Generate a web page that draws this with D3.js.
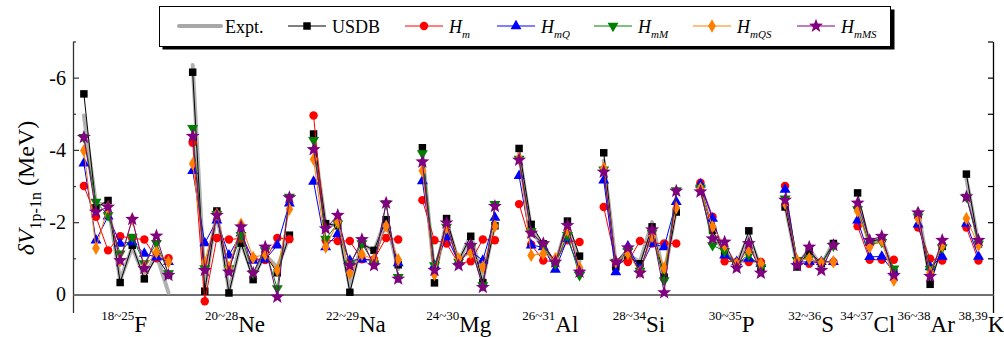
<!DOCTYPE html>
<html><head><meta charset="utf-8">
<script src="https://cdn.jsdelivr.net/npm/d3@7"></script>
<style>
body{margin:0;background:#fff}
svg{display:block}
text{font-family:"Liberation Serif","Times New Roman",serif;fill:#000}
</style>
</head><body>
<svg id="c" width="1004" height="337"></svg>
<script>
// ---------------- data ----------------
const elements   = ["F","Ne","Na","Mg","Al","Si","P","S","Cl","Ar","K"];
const massRanges = ["18~25","20~28","22~29","24~30","26~31","28~34","30~35","32~36","34~37","36~38","38,39"];
const groupSizes = [8,9,8,7,6,7,6,5,4,3,2];
const yMajorTicks = [0,-2,-4,-6];
const yMinorTicks = [-1,-3,-5,-7];

const expt = [
  -4.95,-2.5,-2.5,-0.4,-1.3,-0.5,-1.1,-0.05,
  -6.35,-0.2,-2.3,-0.1,-1.45,-0.5,-1.1,-0.75,-1.6,
  -4.3,-1.9,-1.95,-0.2,-1.4,-1.2,-2.1,-0.7,
  -3.95,-0.5,-2.0,-0.9,-1.65,-0.4,-2.0,
  -3.9,-1.8,-1.3,-0.85,-1.95,-0.9,
  -3.7,-0.85,-1.1,-0.9,-2.0,-0.5,-2.4,
  -3.0,-1.7,-1.15,-0.85,-1.6,-0.75,
  -2.5,-0.8,-1.25,-0.8,-1.45,
  -2.6,-1.4,-1.55,-0.6,
  -2.35,-0.4,-1.4,
  -3.2,-1.4];
const usdb = [
  -5.55,-2.4,-2.6,-0.33,-1.36,-0.43,-1.05,-0.55,
  -6.15,-0.09,-2.31,-0.04,-1.42,-0.41,-1.1,-0.6,-1.64,
  -4.44,-1.96,-1.9,-0.06,-1.4,-1.22,-2.07,-0.82,
  -4.06,-0.32,-2.1,-0.94,-1.61,-0.33,-1.9,
  -4.04,-1.94,-1.4,-0.86,-2.03,-1.06,
  -3.92,-0.76,-1.04,-0.85,-1.87,-0.48,-2.28,
  -3.0,-1.78,-1.1,-0.8,-1.76,-0.7,
  -2.42,-0.76,-1.2,-0.85,-1.41,
  -2.81,-1.45,-1.55,-0.6,
  -2.2,-0.28,-1.33,
  -3.33,-1.4];
const hm = [
  -3.0,-2.15,-1.22,-1.61,-1.55,-1.52,-1.0,-1.0,
  -4.2,0.19,-1.56,-1.52,-1.55,-1.0,-0.95,-1.56,-1.53,
  -4.95,-1.5,-1.48,-1.48,-0.97,-0.97,-1.56,-1.52,
  -2.61,-1.5,-1.41,-0.85,-0.92,-1.52,-1.5,
  -2.5,-1.38,-0.94,-0.9,-1.5,-1.45,
  -2.42,-0.9,-0.9,-1.48,-1.41,-1.41,-1.41,
  -3.09,-2.15,-0.92,-0.9,-0.9,-0.9,
  -3.0,-0.87,-0.85,-0.9,-0.9,
  -1.89,-0.96,-0.96,-0.96,
  -1.85,-0.99,-0.94,
  -1.85,-0.94];
const hmQ = [
  -3.63,-1.5,-2.16,-1.41,-1.45,-1.13,-1.03,-0.9,
  -3.42,-1.42,-2.05,-1.08,-1.69,-0.94,-0.97,-1.36,-2.52,
  -3.12,-1.31,-1.68,-0.94,-0.97,-0.94,-1.91,-0.87,
  -3.14,-0.8,-1.59,-0.9,-1.2,-0.94,-2.13,
  -3.28,-1.36,-1.31,-0.69,-1.54,-0.69,
  -3.16,-0.62,-1.33,-0.71,-1.41,-1.31,-2.56,
  -3.05,-2.1,-1.08,-0.9,-0.99,-0.85,
  -2.9,-0.9,-0.9,-0.9,-0.9,
  -2.05,-1.04,-1.05,-0.62,
  -1.94,-0.76,-1.05,
  -1.96,-1.05];
const hmM = [
  -4.35,-2.56,-2.19,-1.13,-1.59,-0.86,-1.42,-0.58,
  -4.6,-0.72,-2.22,-0.72,-1.64,-0.59,-1.22,-0.17,-2.7,
  -4.27,-1.54,-1.96,-0.85,-1.41,-0.85,-2.52,-0.48,
  -3.9,-0.8,-1.87,-0.9,-1.3,-0.25,-2.5,
  -3.75,-1.75,-1.35,-0.85,-1.64,-0.53,
  -3.45,-0.9,-1.2,-0.65,-1.7,-0.39,-2.88,
  -2.95,-1.36,-1.2,-0.85,-1.1,-0.75,
  -2.65,-0.95,-1.0,-0.85,-1.35,
  -2.35,-1.38,-1.45,-0.71,
  -2.15,-0.7,-1.3,
  -2.7,-1.4];
const hmQS = [
  -3.98,-1.28,-2.42,-0.94,-2.08,-0.76,-1.17,-0.9,
  -3.62,-0.9,-2.22,-0.75,-1.94,-1.02,-1.11,-0.67,-2.36,
  -3.74,-1.31,-2.01,-0.59,-1.11,-0.96,-1.89,-0.96,
  -3.42,-0.55,-1.85,-0.99,-1.15,-0.76,-1.89,
  -3.76,-1.08,-1.13,-0.99,-1.78,-0.74,
  -3.49,-0.9,-1.13,-0.62,-1.61,-0.73,-2.4,
  -2.93,-1.87,-1.36,-0.85,-1.22,-0.85,
  -2.52,-0.94,-0.99,-0.87,-0.9,
  -2.31,-1.31,-1.5,-0.39,
  -2.1,-0.6,-1.36,
  -2.1,-1.36];
const hmMS = [
  -4.35,-2.28,-2.42,-0.94,-2.08,-0.72,-1.62,-0.53,
  -4.38,-0.67,-2.19,-0.62,-1.87,-0.59,-1.31,0.07,-2.68,
  -4.01,-1.82,-2.19,-0.8,-1.52,-0.8,-2.53,-0.43,
  -3.67,-0.67,-1.98,-0.8,-1.36,-0.2,-2.44,
  -3.72,-1.7,-1.41,-0.9,-1.91,-0.62,
  -3.39,-0.9,-1.29,-0.59,-1.79,-0.05,-2.86,
  -2.84,-1.54,-1.45,-0.73,-1.41,-0.59,
  -2.61,-0.8,-1.31,-0.67,-1.36,
  -2.53,-1.5,-1.61,-0.53,
  -2.26,-0.5,-1.5,
  -2.7,-1.5];

// --------------- layout ---------------
const svg = d3.select("#c");
const x = d3.scaleLinear().domain([-0.9, 75.2]).range([73, 993]);
const y = d3.scaleLinear().domain([0.5, -7]).range([312.5, 41.5]);
// horizontal nudges (px) of each group label relative to its group's centre
const labelNudge = [-2,-6,0,0,1,-1,1,2,-8,-4,9];

// slot positions: one empty slot between groups
const nuclei = [];
let slot = 0;
groupSizes.forEach((n, g) => {
  for (let k = 0; k < n; k++) nuclei.push({g, slot: slot + k});
  slot += n + 1;
});

const star = {
  draw(ctx, size) {
    const r = Math.sqrt(size / 1.3), r2 = r * 0.42;
    for (let i = 0; i < 10; i++) {
      const rr = i % 2 ? r2 : r, a = -Math.PI/2 + i*Math.PI/5;
      const px = rr*Math.cos(a), py = rr*Math.sin(a);
      i ? ctx.lineTo(px, py) : ctx.moveTo(px, py);
    }
    ctx.closePath();
  }
};

const series = [
  {name:"USDB", vals:usdb, color:"#000000", sym:d3.symbolSquare, size:56, rot:0},
  {name:"Hm",   vals:hm,   color:"#ff0000", sym:d3.symbolCircle, size:56, rot:0},
  {name:"HmQ",  vals:hmQ,  color:"#0000ff", sym:d3.symbolTriangle, size:52, rot:0},
  {name:"HmM",  vals:hmM,  color:"#008000", sym:d3.symbolTriangle, size:52, rot:180},
  {name:"HmQS", vals:hmQS, color:"#ff8000", sym:d3.symbolDiamond, size:52, rot:0},
  {name:"HmMS", vals:hmMS, color:"#800080", sym:star, size:70, rot:0}
];

// axes
const gL = svg.append("g").attr("transform","translate(73,0)")
  .call(d3.axisLeft(y).tickValues(yMajorTicks).tickSizeInner(-6).tickSizeOuter(0).tickPadding(7).tickFormat(d => d===0 ? "0" : "-" + Math.abs(d)));
gL.select(".domain").attr("stroke","#333").attr("stroke-width",1.3);
gL.selectAll(".tick line").attr("stroke","#333").attr("stroke-width",1.2);
gL.selectAll(".tick text").attr("font-size",20).attr("font-family","Liberation Serif").attr("fill","#000");
const gLm = svg.append("g").attr("transform","translate(73,0)")
  .call(d3.axisLeft(y).tickValues(yMinorTicks).tickSizeInner(-3).tickSizeOuter(0).tickFormat(""));
gLm.select(".domain").remove();
gLm.selectAll(".tick line").attr("stroke","#333").attr("stroke-width",1.2);

const gR = svg.append("g").attr("transform","translate(993,0)")
  .call(d3.axisRight(y).tickValues(yMajorTicks.concat(yMinorTicks)).tickSizeInner(-5).tickSizeOuter(0).tickFormat(""));
gR.select(".domain").attr("stroke","#000").attr("stroke-width",1.3);
gR.selectAll(".tick line").attr("stroke","#000").attr("stroke-width",1.2);

const gB = svg.append("g").attr("transform",`translate(0,${y(0)})`)
  .call(d3.axisBottom(x).tickValues([]).tickSizeOuter(0));
gB.select(".domain").attr("stroke","#707070").attr("stroke-width",2);

// y label
const yl = svg.append("text").attr("transform","translate(34,188) rotate(-90)")
  .attr("text-anchor","middle").attr("font-size",24);
yl.append("tspan").attr("font-style","italic").text("δV");
yl.append("tspan").attr("font-size",16).attr("dy",7).text("1p-1n");
yl.append("tspan").attr("dy",-7).text(" (MeV)");

// x group labels
elements.forEach((el, g) => {
  const idx = nuclei.filter(d => d.g === g);
  const cx = (x(idx[0].slot) + x(idx[idx.length-1].slot)) / 2 + labelNudge[g];
  const t = svg.append("text").attr("x", cx).attr("y", 332).attr("text-anchor","middle").attr("font-size",23);
  t.append("tspan").attr("font-size",13).attr("dy",-12).text(massRanges[g]);
  t.append("tspan").attr("dy",12).text(el);
});

// lines
const line = d3.line().x(d => x(d.slot)).y(d => y(d.v));
const byGroup = vals => groupSizes.map((n, g) => nuclei.map((d,i)=>({slot:d.slot,g:d.g,v:vals[i]})).filter(d => d.g === g));

svg.append("g").selectAll("path").data(byGroup(expt)).join("path")
  .attr("d", line).attr("fill","none").attr("stroke","#a8a8a8").attr("stroke-width",4)
  .attr("stroke-linejoin","round").attr("stroke-linecap","round").attr("opacity",0.9);

series.forEach(s => {
  const g = svg.append("g");
  g.selectAll("path").data(byGroup(s.vals)).join("path")
    .attr("d", line).attr("fill","none").attr("stroke", s.color).attr("stroke-width",1);
  g.selectAll(".m").data(s.vals.map((v,i)=>({v, slot:nuclei[i].slot}))).join("path")
    .attr("class","m")
    .attr("d", d3.symbol(s.sym, s.size)())
    .attr("transform", d => `translate(${x(d.slot)},${y(d.v)}) rotate(${s.rot})`)
    .attr("fill", s.color);
});

// legend
const lg = svg.append("g");
lg.append("rect").attr("x",162.5).attr("y",9.5).attr("width",732).attr("height",40).attr("fill","#000");
lg.append("rect").attr("x",159.5).attr("y",6.5).attr("width",731).attr("height",40).attr("fill","#fff").attr("stroke","#000").attr("stroke-width",1);
const legendItems = [
  {x0:179, label:"Expt.", sub:null, s:null},
  {x0:288, label:"USDB", sub:null, s:series[0]},
  {x0:405, label:"H", sub:"m", s:series[1]},
  {x0:497, label:"H", sub:"mQ", s:series[2]},
  {x0:594, label:"H", sub:"mM", s:series[3]},
  {x0:693, label:"H", sub:"mQS", s:series[4]},
  {x0:797, label:"H", sub:"mMS", s:series[5]}
];
legendItems.forEach(it => {
  const ly = 26;
  if (!it.s) {
    lg.append("line").attr("x1",it.x0).attr("x2",it.x0+42).attr("y1",ly).attr("y2",ly)
      .attr("stroke","#a8a8a8").attr("stroke-width",4).attr("stroke-linecap","round");
  } else {
    lg.append("line").attr("x1",it.x0).attr("x2",it.x0+38).attr("y1",ly).attr("y2",ly)
      .attr("stroke",it.s.color).attr("stroke-width",1);
    lg.append("path").attr("d", d3.symbol(it.s.sym, it.s.size)())
      .attr("transform",`translate(${it.x0+19},${ly}) rotate(${it.s.rot})`).attr("fill", it.s.color);
  }
  const tx = it.x0 + (it.s ? 44 : 46);
  const t = lg.append("text").attr("x", tx).attr("y", 33).attr("font-size",18);
  if (it.sub) {
    t.append("tspan").attr("font-style","italic").text(it.label);
    t.append("tspan").attr("font-style","italic").attr("font-size",11).attr("dy",5).text(it.sub);
  } else t.text(it.label);
});
</script>
</body></html>
